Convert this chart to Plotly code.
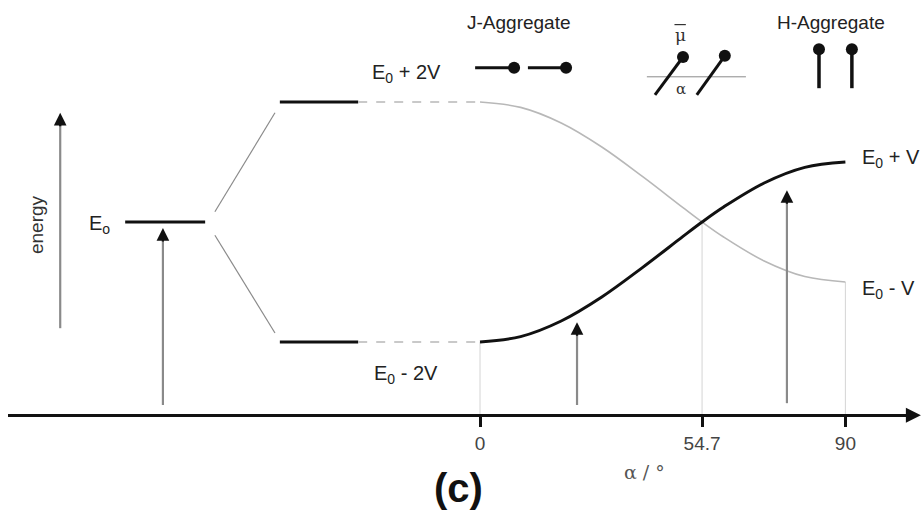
import plotly.graph_objects as go

# Kasha exciton model: energy levels of a dimer versus dipole angle alpha (energies in units of V)
alpha_deg = [0, 10, 20, 30, 40, 50, 54.7, 60, 70, 80, 90]
upper_state = [2.0, 1.91, 1.65, 1.25, 0.76, 0.24, 0.0, -0.25, -0.65, -0.91, -1.0]
lower_state = [-2.0, -1.91, -1.65, -1.25, -0.76, -0.24, 0.0, 0.25, 0.65, 0.91, 1.0]

tick_vals = [0, 54.7, 90]
tick_text = ["0", "54.7", "90"]

E0 = 0.0
SPLIT = 2.0
GROUND = -3.22

# schematic x positions of the monomer / dimer levels left of alpha = 0
mono_x = [-87.4, -67.7]
dimer_x = [-49.3, -30.0]

FONT = "Liberation Sans, Arial, sans-serif"
SERIF = "DejaVu Serif"
DARK = "#111111"
TEXT = "#222222"
GREY = "#8a8a8a"
LIGHT = "#b8b8b8"

fig = go.Figure()


def seg(xs, ys, color, width, dash=None):
    fig.add_trace(go.Scatter(x=xs, y=ys, mode="lines", hoverinfo="skip",
                             line=dict(color=color, width=width, dash=dash)))


# monomer level and the splitting lines
seg(mono_x, [E0, E0], DARK, 3)
seg([-65.3, -50.5], [E0 + 0.17, SPLIT - 0.18], GREY, 1.2)
seg([-65.3, -50.5], [E0 - 0.22, -SPLIT + 0.15], GREY, 1.2)

# dimer levels and dashed continuations to alpha = 0
seg(dimer_x, [SPLIT, SPLIT], DARK, 3)
seg(dimer_x, [-SPLIT, -SPLIT], DARK, 3)
seg([dimer_x[1], 0], [SPLIT, SPLIT], LIGHT, 1.6, "dash")
seg([dimer_x[1], 0], [-SPLIT, -SPLIT], LIGHT, 1.6, "dash")

# guide lines down to the alpha axis
seg([0, 0], [-SPLIT, GROUND], "#d4d4d4", 1)
seg([54.7, 54.7], [E0, GROUND], "#d4d4d4", 1)
seg([90, 90], [upper_state[-1], GROUND], "#d4d4d4", 1)

# the two exciton states versus alpha
fig.add_trace(go.Scatter(x=alpha_deg, y=upper_state, mode="lines", hoverinfo="skip",
                         line=dict(color=LIGHT, width=1.6, shape="spline")))
fig.add_trace(go.Scatter(x=alpha_deg, y=lower_state, mode="lines", hoverinfo="skip",
                         line=dict(color=DARK, width=3, shape="spline")))

# dipole pictograms: J (head-to-tail), oblique, H (side by side)
J_y = 2.57
seg([-1.2, 8.4], [J_y, J_y], DARK, 3)
seg([11.8, 21.2], [J_y, J_y], DARK, 3)
seg([41.1, 65.5], [2.42, 2.42], GREY, 1)
seg([43.1, 50.0], [2.12, 2.75], DARK, 3)
seg([53.4, 60.3], [2.12, 2.77], DARK, 3)
seg([83.5, 83.5], [2.23, 2.88], DARK, 3.5)
seg([91.6, 91.6], [2.23, 2.88], DARK, 3.5)
fig.add_trace(go.Scatter(x=[8.4, 21.2, 50.0, 60.3, 83.5, 91.6],
                         y=[J_y, J_y, 2.75, 2.77, 2.88, 2.88], mode="markers",
                         hoverinfo="skip", marker=dict(color=DARK, size=12)))
# vector bar over the dipole symbol
seg([47.9, 50.7], [3.29, 3.29], "#333333", 1.2)


# arrows: grey shaft with a black head
def arrow(x, y0, y1, width=2.2):
    seg([x, x], [y0, y1 - 0.1], GREY, width)
    fig.add_annotation(x=x, y=y1, ax=x, ay=y1 - 0.25, xref="x", yref="y", axref="x",
                       ayref="y", text="", showarrow=True, arrowhead=2, arrowsize=1.15,
                       arrowwidth=2.2, arrowcolor=DARK)


arrow(-103.4, -1.77, 1.82)
arrow(-78.1, -3.05, -0.1)
arrow(23.9, -3.05, -1.67)
arrow(75.6, -3.02, 0.53)
fig.add_annotation(x=108.6, y=GROUND, ax=104, ay=GROUND, xref="x", yref="y", axref="x",
                   ayref="y", text="", showarrow=True, arrowhead=2, arrowsize=1.2,
                   arrowwidth=2.5, arrowcolor=DARK)


def label(x, y, text, size=20, color=TEXT, family=FONT, **kw):
    fig.add_annotation(x=x, y=y, text=text, showarrow=False, xref="x", yref="y",
                       font=dict(family=family, size=size, color=color), **kw)


label(-93.8, -0.05, "E<sub>o</sub>")
label(-109.1, -0.05, "energy", size=19, color="#333333", textangle=-90)
label(-18.2, 2.47, "E<sub>0</sub> + 2V")
label(-18.2, -2.55, "E<sub>0</sub> - 2V")
label(101.2, 1.06, "E<sub>0</sub> + V")
label(100.5, -1.12, "E<sub>0</sub> - V")
label(9.6, 3.33, "J-Aggregate", size=19)
label(86.5, 3.33, "H-Aggregate", size=19)
label(49.3, 3.11, "μ", size=17, color="#333333", family=SERIF)
label(49.4, 2.22, "α", size=15, color="#333333", family=SERIF)
label(40.6, -4.17, "α / °", size=19, color="#555555", family=SERIF)
label(-5.2, -4.44, "<b>(c)</b>", size=40, color=DARK)

fig.update_layout(
    width=923, height=517,
    margin=dict(l=0, r=0, t=0, b=0),
    paper_bgcolor="white", plot_bgcolor="white",
    showlegend=False,
    xaxis=dict(domain=[8 / 923, 914 / 923], range=[-116.26, 106.90],
               anchor="free", position=(517 - 415) / 517,
               showline=True, linecolor=DARK, linewidth=2.5,
               ticks="outside", ticklen=10, tickwidth=2.5, tickcolor=DARK,
               tickvals=tick_vals, ticktext=tick_text,
               tickfont=dict(family=FONT, size=19, color="#444444"),
               showgrid=False, zeroline=False, fixedrange=True),
    yaxis=dict(domain=[0, 1], range=[-4.917, 3.7], visible=False,
               showgrid=False, zeroline=False, fixedrange=True),
)

fig.write_html("out.html")
